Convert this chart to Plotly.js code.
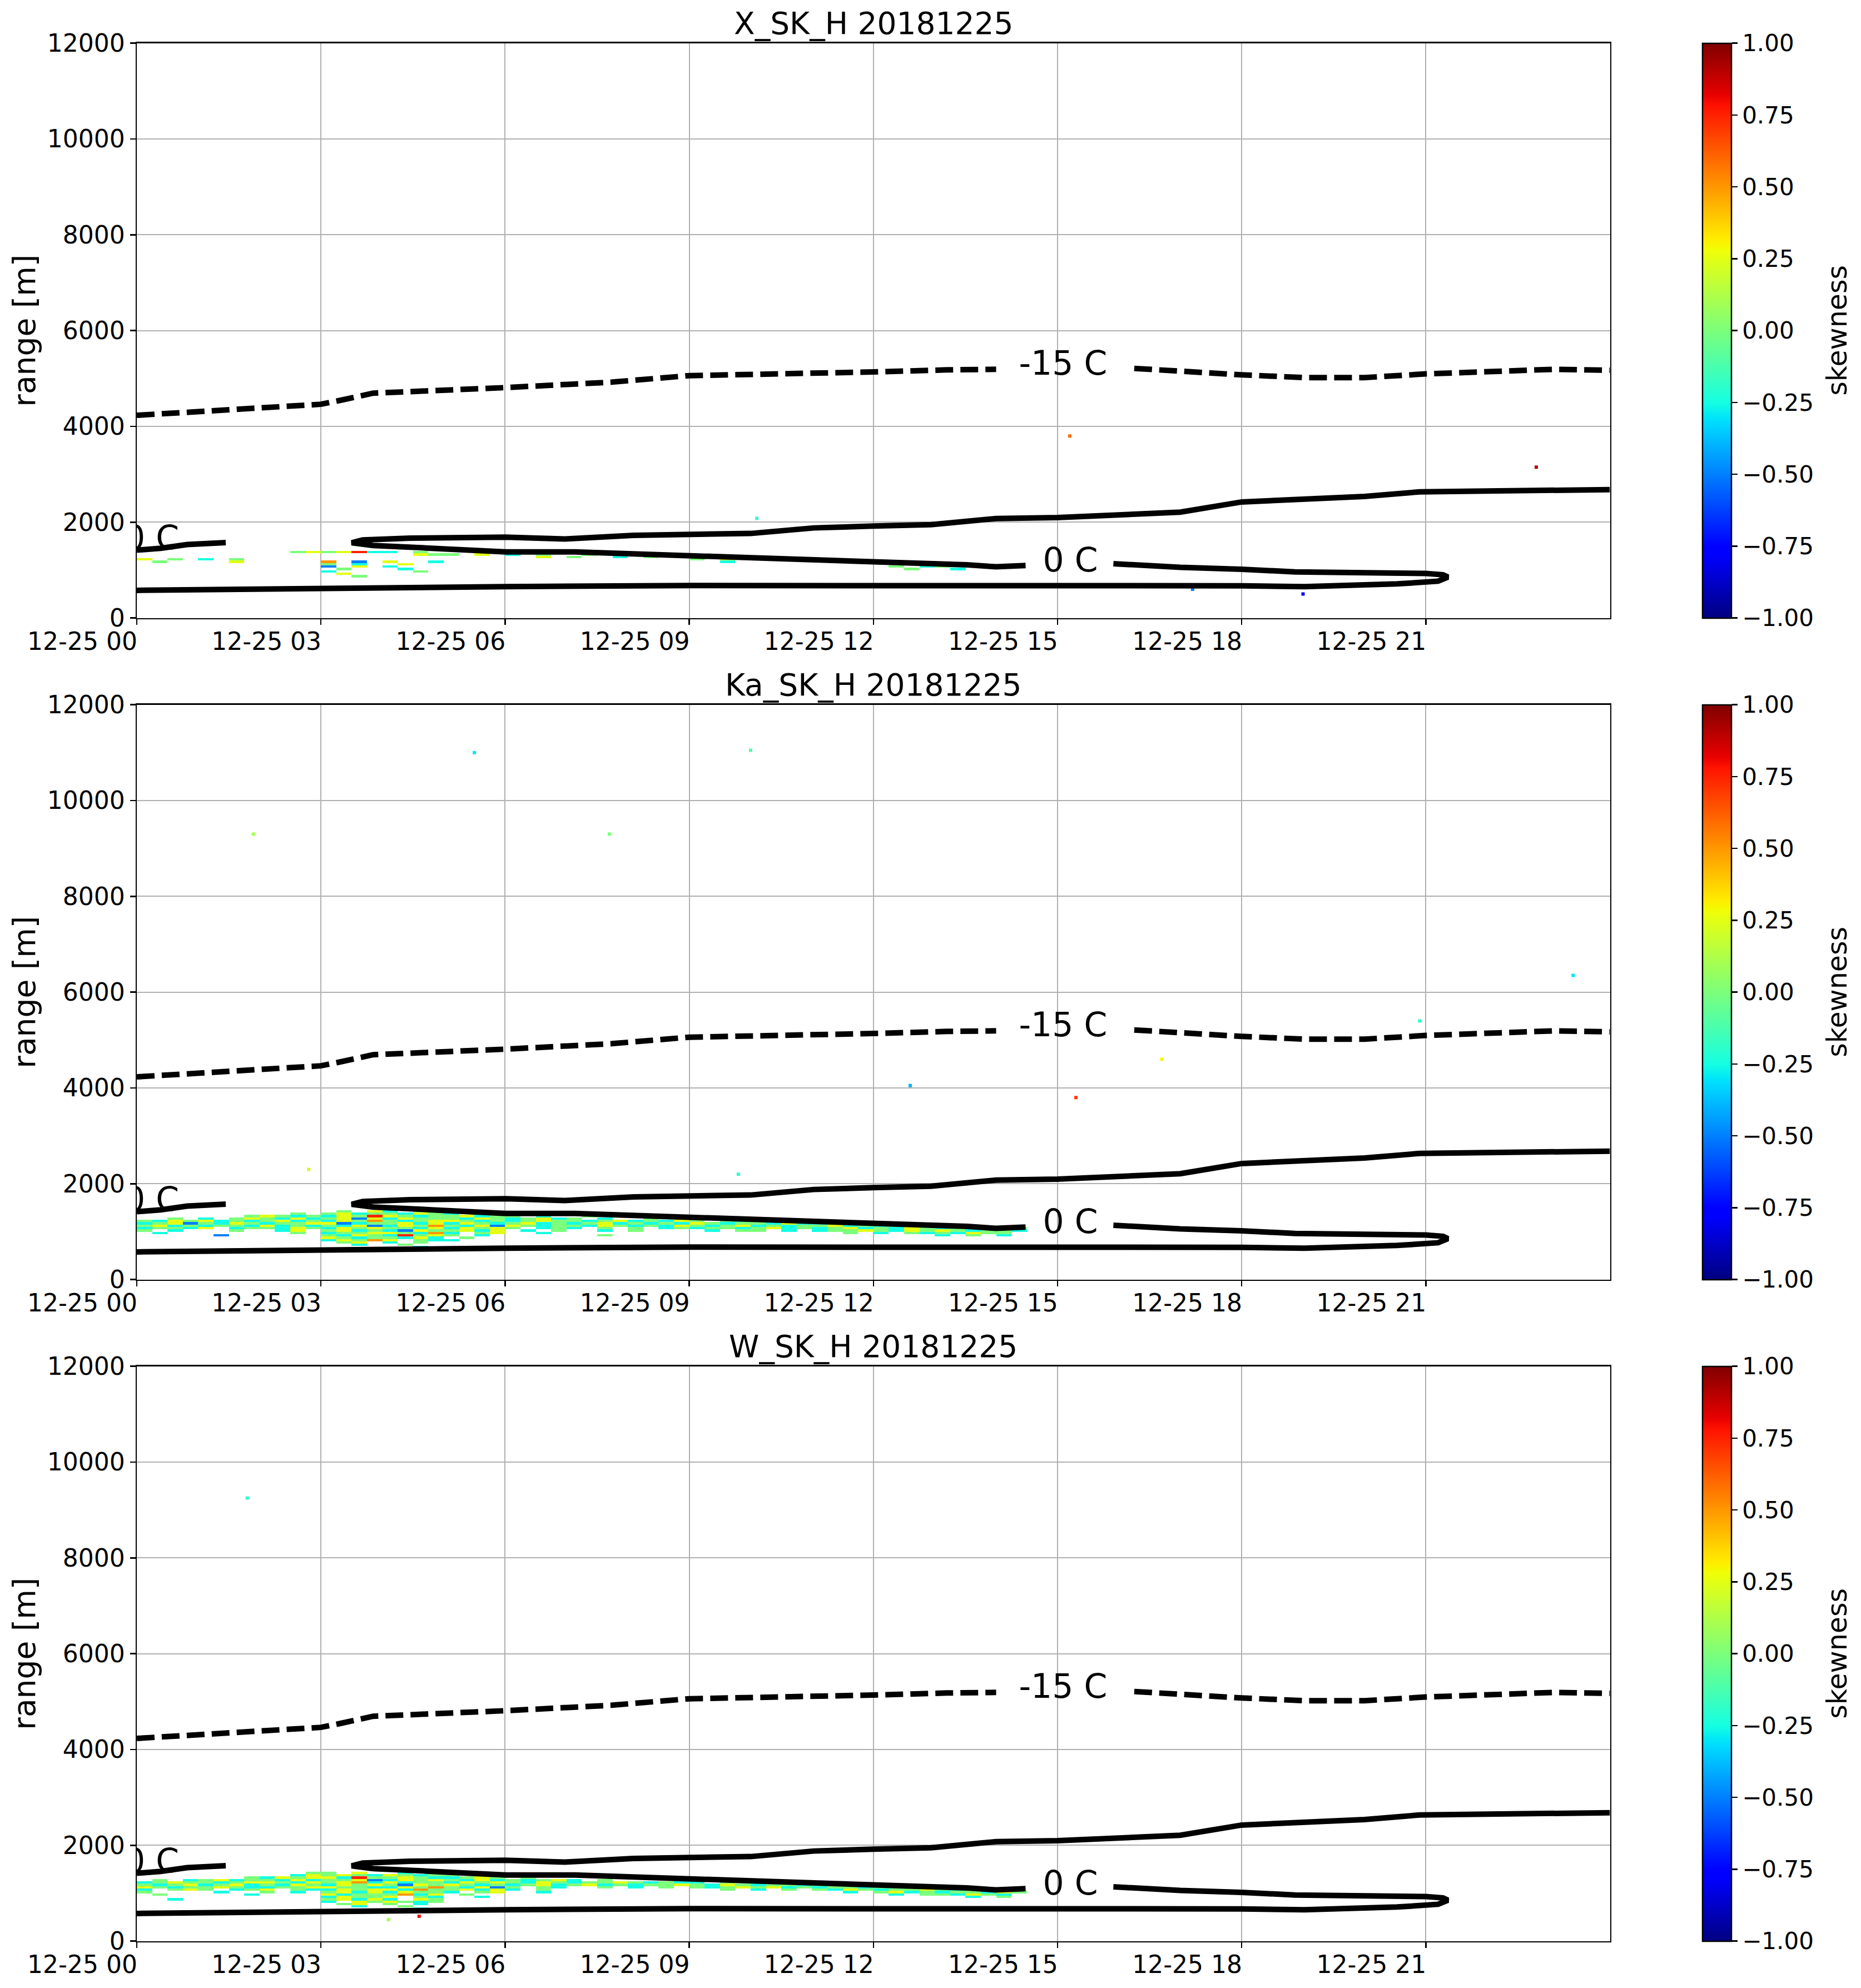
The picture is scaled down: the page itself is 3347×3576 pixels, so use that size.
<!DOCTYPE html>
<html>
<head>
<meta charset="utf-8">
<script src="https://cdn.plot.ly/plotly-3.0.1.min.js"></script>
<style>html,body{margin:0;padding:0;background:#fff;}</style>
</head>
<body>
<div id="chart" style="width:3347px;height:3576px;"></div>
<script>
// ---------------- data ----------------
const panelTitles = ["X_SK_H 20181225", "Ka_SK_H 20181225", "W_SK_H 20181225"];
const hourTicks = [0, 3, 6, 9, 12, 15, 18, 21];
const hourTickLabels = ["12-25 00", "12-25 03", "12-25 06", "12-25 09", "12-25 12", "12-25 15", "12-25 18", "12-25 21"];
const rangeTicks = [0, 2000, 4000, 6000, 8000, 10000, 12000];
const rangeTickLabels = ["0", "2000", "4000", "6000", "8000", "10000", "12000"];
const skewTicks = [-1, -0.75, -0.5, -0.25, 0, 0.25, 0.5, 0.75, 1];
const skewTickLabels = ["\u22121.00", "\u22120.75", "\u22120.50", "\u22120.25", "0.00", "0.25", "0.50", "0.75", "1.00"];

// skewness grid: 15-minute columns (0h..15h), 50 m rows (top to bottom)
// code digit d -> skewness -1 + 0.25*d ; '.' -> no echo ; '|' separates hours
const rowAlt = [1425, 1375, 1325, 1275, 1225, 1175, 1125, 1075, 1025, 975, 925, 875, 825, 775, 725, 675];

const xSkewRows = [
  "....|....|....|....|....",
  "....|....|..45|4573|3.4.|....",
  "....|....|....|....|..54|4.5.|3.4.|.4..",
  "....|....|....|....|....|....|..5.|4..3|.4.5",
  "5.4.|3.4.|....|....|....|....|....|....|....|4.5.|.4.3|4...",
  ".4..|..5.|....|6.2.|5..3|....|....|....|....|..3.|....|.3.4",
  "....|....|....|4.3.|.5..",
  "....|....|....|2.5.|3...|....|....|....|....|....|....|....|.4.3|4...",
  "....|....|....|.4..|.3..|....|....|....|....|....|....|....|..4.|.3..",
  "....|....|....|3...|..4.",
  "....|....|....|.5..",
  "....|....|....|..4.",
  "", "", "", ""
];

const kaSkewRows = [
  "....|....|....|.4.5|3.4.",
  "....|....|..4.|4534|4354|3...",
  "....|...4|5434|3547|5434|4534|4.3.|.4..",
  "..4.|3.45|4353|4525|3544|4354|3453|4.3.|.4..",
  "4354|5343|4534|3546|4345|5434|3454|4345|3435|4.43|34.4|.3..",
  "3452|4354|3445|5234|4535|3543|4534|3453|4343|5434|4353|3443|.4..",
  "4534|3443|5343|4352|3546|4352|5434|4354|3435|4345|3434|4534|3443|4.3.|....",
  "3443|5.34|4354|3545|4435|3545|4.34|3.4.|4.34|3443|4534|3453|4354|3445|34..",
  "4.3.|..4.|.35.|4534|3254|4535|.3.4|..3.|4...|.3.4|4.3.|3445|4354|5434|43..",
  ".3..|....|..4.|3445|5436|3.45|..3.|....|....|....|....|..4.|3.43|4354|4...",
  "....|.2..|....|4354|3745|4.3.|....|..4.|....|....|....|....|....|3.4.|3...",
  "....|....|....|5434|4353|.4..",
  "....|....|....|3546|5.43|3...",
  "....|....|....|.45.|3.4.",
  "....|....|....|..3.|.4..",
  "....|....|....|....|..3."
];

const wSkewRows = [
  "....|....|...4|4.5.|.3..",
  "....|....|..35|4543|5434|4...",
  "....|...4|3545|5374|4543|3454|.4..",
  ".4.3|4534|4353|4452|3545|4353|4345|3.4.",
  "3454|4345|5435|4563|5344|3545|4354|3445|4343|3.4.|.3..",
  "4345|3453|4354|3545|4254|5434|3453|4534|3445|4354|3443|4.34",
  "5434|4543|3445|5443|3546|4352|4.43|..4.|3.4.|4345|4534|3443|4354|.4..",
  "3.45|4.34|5.43|3545|5364|4535|3.4.|....|....|..4.|3.4.|4354|3445|4354|4...",
  "4...|.3..|4.3.|4535|3544|3.45|..3.|....|....|....|....|..3.|4534|3443|54..",
  ".4..|...3|....|5344|4635|.4..|....|....|....|....|....|....|.3.4|4354|3...",
  "....|....|....|3544|5.43|..3.|....|....|....|....|....|....|....|..3.|4...",
  "..3.|....|....|4535|3.54",
  "....|....|....|3.54|5434",
  "....|....|....|.45.|4.3.",
  "....|....|....|..3.|.4..",
  "....|....|....|....|..3."
];

// isolated echoes: hours, heights, skewness
const xSpeckHours = [10.1, 15.2, 22.8, 19.0, 17.2];
const xSpeckHeights = [2080, 3800, 3150, 500, 600];
const xSpeckValues = [-0.2, 0.6, 0.9, -0.8, -0.5];
const kaSpeckHours = [1.9, 5.5, 10.0, 7.7, 12.6, 15.3, 20.9, 23.4, 2.8, 9.8, 16.7];
const kaSpeckHeights = [9300, 11000, 11050, 9300, 4050, 3800, 5400, 6350, 2300, 2200, 4600];
const kaSpeckValues = [0.1, -0.3, -0.1, 0.0, -0.4, 0.7, -0.2, -0.3, 0.2, -0.2, 0.3];
const wSpeckHours = [1.8, 4.1, 4.6];
const wSpeckHeights = [9250, 450, 520];
const wSpeckValues = [-0.2, 0.1, 0.8];

// temperature contours (hours, height in m); null = gap
const zeroHours = [0, 0.39, 0.82, 1.34, 1.45, null,
  24, 22.03, 20.9, 20, 18, 17, 15, 14, 12.94, 12, 11.03, 10, 8.09, 6.97, 6.01, 4.45, 3.68, 3.5,
  3.85, 4.8, 5.49, 6.01, 7.14, 9, 10, 11.73, 12.27, 13.53, 14, 14.48, null,
  15.91, 17, 18, 18.87, 21, 21.28, 21.36, 21.2, 20.53, 19.02, 18, 16.02, 15, 13.53, 12.27, 9, 6, 3, 0];
const zeroHeights = [1418, 1457, 1534, 1572, 1575, null,
  2681, 2634, 2634, 2538, 2423, 2211, 2096, 2077, 1950, 1919, 1881, 1765, 1727, 1650, 1688, 1669, 1630, 1572,
  1515, 1457, 1399, 1380, 1380, 1303, 1264, 1187, 1160, 1110, 1069, 1096, null,
  1135, 1058, 1019, 962, 931, 904, 854, 769, 712, 654, 673, 673, 685, 686, 692, 678, 655, 628, 578];
const minus15Hours = [0, 1.51, 3.0, 3.3, 3.85, 6.0, 7.74, 9.0, 11.2, 12.0, 13.2, 14.0, null,
  16.25, 17.37, 18.0, 19.02, 20.0, 21.0, 22.03, 23.08, 24.0];
const minus15Heights = [4232, 4347, 4463, 4540, 4694, 4810, 4925, 5060, 5099, 5137, 5180, 5192, null,
  5211, 5115, 5077, 5019, 5019, 5096, 5154, 5192, 5173];
const labelText = ["-15 C", "0 C", "0 C"];
const labelHours = [15.09, 15.21, 0.24];
const labelHeights = [5250, 1140, 1610];

// ---------------- build ----------------
const FONT = "DejaVu Sans, Liberation Sans, sans-serif";
const NCOL = 60;
const colHours = [];
for (let i = 0; i < NCOL; i++) colHours.push(i * 0.25 + 0.125);

function decode(rows) {
  return rows.map(s => {
    const c = s.replace(/\|/g, "");
    const out = [];
    for (let i = 0; i < NCOL; i++) {
      const ch = c[i];
      out.push(ch && ch !== "." ? -1 + 0.25 * Number(ch) : null);
    }
    return out;
  });
}

const jet = [
  [0, "rgb(0,0,128)"], [0.11, "rgb(0,0,255)"], [0.125, "rgb(0,0,255)"],
  [0.34, "rgb(0,219,255)"], [0.35, "rgb(0,230,247)"], [0.375, "rgb(21,255,226)"],
  [0.64, "rgb(239,255,8)"], [0.65, "rgb(247,245,0)"], [0.66, "rgb(255,236,0)"],
  [0.89, "rgb(255,19,0)"], [0.91, "rgb(232,0,0)"], [1, "rgb(128,0,0)"]
];

const H = 3576, W = 3347;
const tops = [77.7, 1267.7, 2457.7];
const panelH = 1034;
const xDom = [246 / W, 2895.5 / W];
const TICKSIZE = 44;

const allRows = [xSkewRows, kaSkewRows, wSkewRows];
const speckH = [xSpeckHours, kaSpeckHours, wSpeckHours];
const speckA = [xSpeckHeights, kaSpeckHeights, wSpeckHeights];
const speckV = [xSpeckValues, kaSpeckValues, wSpeckValues];

const traces = [];
const layout = {
  width: W, height: H,
  margin: {l: 0, r: 0, t: 0, b: 0},
  paper_bgcolor: "white", plot_bgcolor: "white",
  showlegend: false,
  font: {family: FONT, color: "black", size: TICKSIZE},
  annotations: []
};

const rowAltAsc = rowAlt.slice().reverse();

for (let p = 0; p < 3; p++) {
  const ax = p === 0 ? "" : String(p + 1);
  const xa = "x" + ax, ya = "y" + ax;
  const top = tops[p], bot = tops[p] + panelH;
  const dom = [1 - bot / H, 1 - top / H];
  const mid = (dom[0] + dom[1]) / 2;

  layout["xaxis" + ax] = {
    domain: xDom, range: [0, 24], anchor: ya,
    tickmode: "array", tickvals: hourTicks, ticktext: hourTickLabels,
    ticks: "outside", ticklen: 10, tickwidth: 2.5, tickcolor: "black",
    ticklabelshift: -98, ticklabelstandoff: -8,
    showgrid: true, gridcolor: "#b0b0b0", gridwidth: 2,
    showline: true, mirror: true, linecolor: "black", linewidth: 2.5,
    zeroline: false, tickfont: {size: TICKSIZE, family: FONT, color: "black"}
  };
  layout["yaxis" + ax] = {
    domain: dom, range: [0, 12000], anchor: xa,
    tickmode: "array", tickvals: rangeTicks, ticktext: rangeTickLabels,
    ticks: "outside", ticklen: 10, tickwidth: 2.5, tickcolor: "black",
    showgrid: true, gridcolor: "#b0b0b0", gridwidth: 2,
    showline: true, mirror: true, linecolor: "black", linewidth: 2.5,
    zeroline: false, tickfont: {size: TICKSIZE, family: FONT, color: "black"}
  };

  const z = decode(allRows[p]).reverse();
  traces.push({
    type: "heatmap", x: colHours, y: rowAltAsc, z: z, xaxis: xa, yaxis: ya,
    colorscale: jet, zmin: -1, zmax: 1, zsmooth: false, hoverinfo: "skip",
    colorbar: {
      x: 3061.5 / W, xanchor: "left", xpad: 0, ypad: 0,
      y: mid, yanchor: "middle", len: panelH / H, lenmode: "fraction",
      thickness: 51.5, thicknessmode: "pixels",
      outlinewidth: 2.5, outlinecolor: "black",
      ticks: "outside", ticklen: 10, tickwidth: 2.5, tickcolor: "black",
      tickmode: "array", tickvals: skewTicks, ticktext: skewTickLabels,
      tickfont: {size: 42, family: FONT, color: "black"},
      title: {text: ""}
    }
  });
  traces.push({
    type: "scatter", mode: "markers", x: speckH[p], y: speckA[p], xaxis: xa, yaxis: ya,
    marker: {symbol: "square", size: 6, color: speckV[p], colorscale: jet, cmin: -1, cmax: 1, showscale: false},
    hoverinfo: "skip"
  });
  traces.push({
    type: "scatter", mode: "lines", x: zeroHours, y: zeroHeights, xaxis: xa, yaxis: ya,
    line: {color: "black", width: 10}, connectgaps: false, hoverinfo: "skip"
  });
  traces.push({
    type: "scatter", mode: "lines", x: minus15Hours, y: minus15Heights, xaxis: xa, yaxis: ya,
    line: {color: "black", width: 10, dash: "32px,13px"}, connectgaps: false, hoverinfo: "skip"
  });
  traces.push({
    type: "scatter", mode: "text", x: labelHours, y: labelHeights, text: labelText,
    xaxis: xa, yaxis: ya, textposition: "middle center", cliponaxis: true,
    textfont: {size: 60, family: FONT, color: "black"}, hoverinfo: "skip"
  });

  layout.annotations.push({
    text: panelTitles[p], xref: "paper", yref: "paper",
    x: (xDom[0] + xDom[1]) / 2, y: dom[1], xanchor: "center", yanchor: "bottom",
    yshift: 2, showarrow: false, font: {size: 55, family: FONT, color: "black"}
  });
  layout.annotations.push({
    text: "range [m]", xref: "paper", yref: "paper",
    x: 44 / W, y: mid, xanchor: "center", yanchor: "middle", textangle: -90,
    showarrow: false, font: {size: 55, family: FONT, color: "black"}
  });
  layout.annotations.push({
    text: "skewness", xref: "paper", yref: "paper",
    x: 3305 / W, y: mid, xanchor: "center", yanchor: "middle", textangle: -90,
    showarrow: false, font: {size: 49, family: FONT, color: "black"}
  });
}

Plotly.newPlot("chart", traces, layout, {staticPlot: true, displayModeBar: false});
</script>
</body>
</html>
